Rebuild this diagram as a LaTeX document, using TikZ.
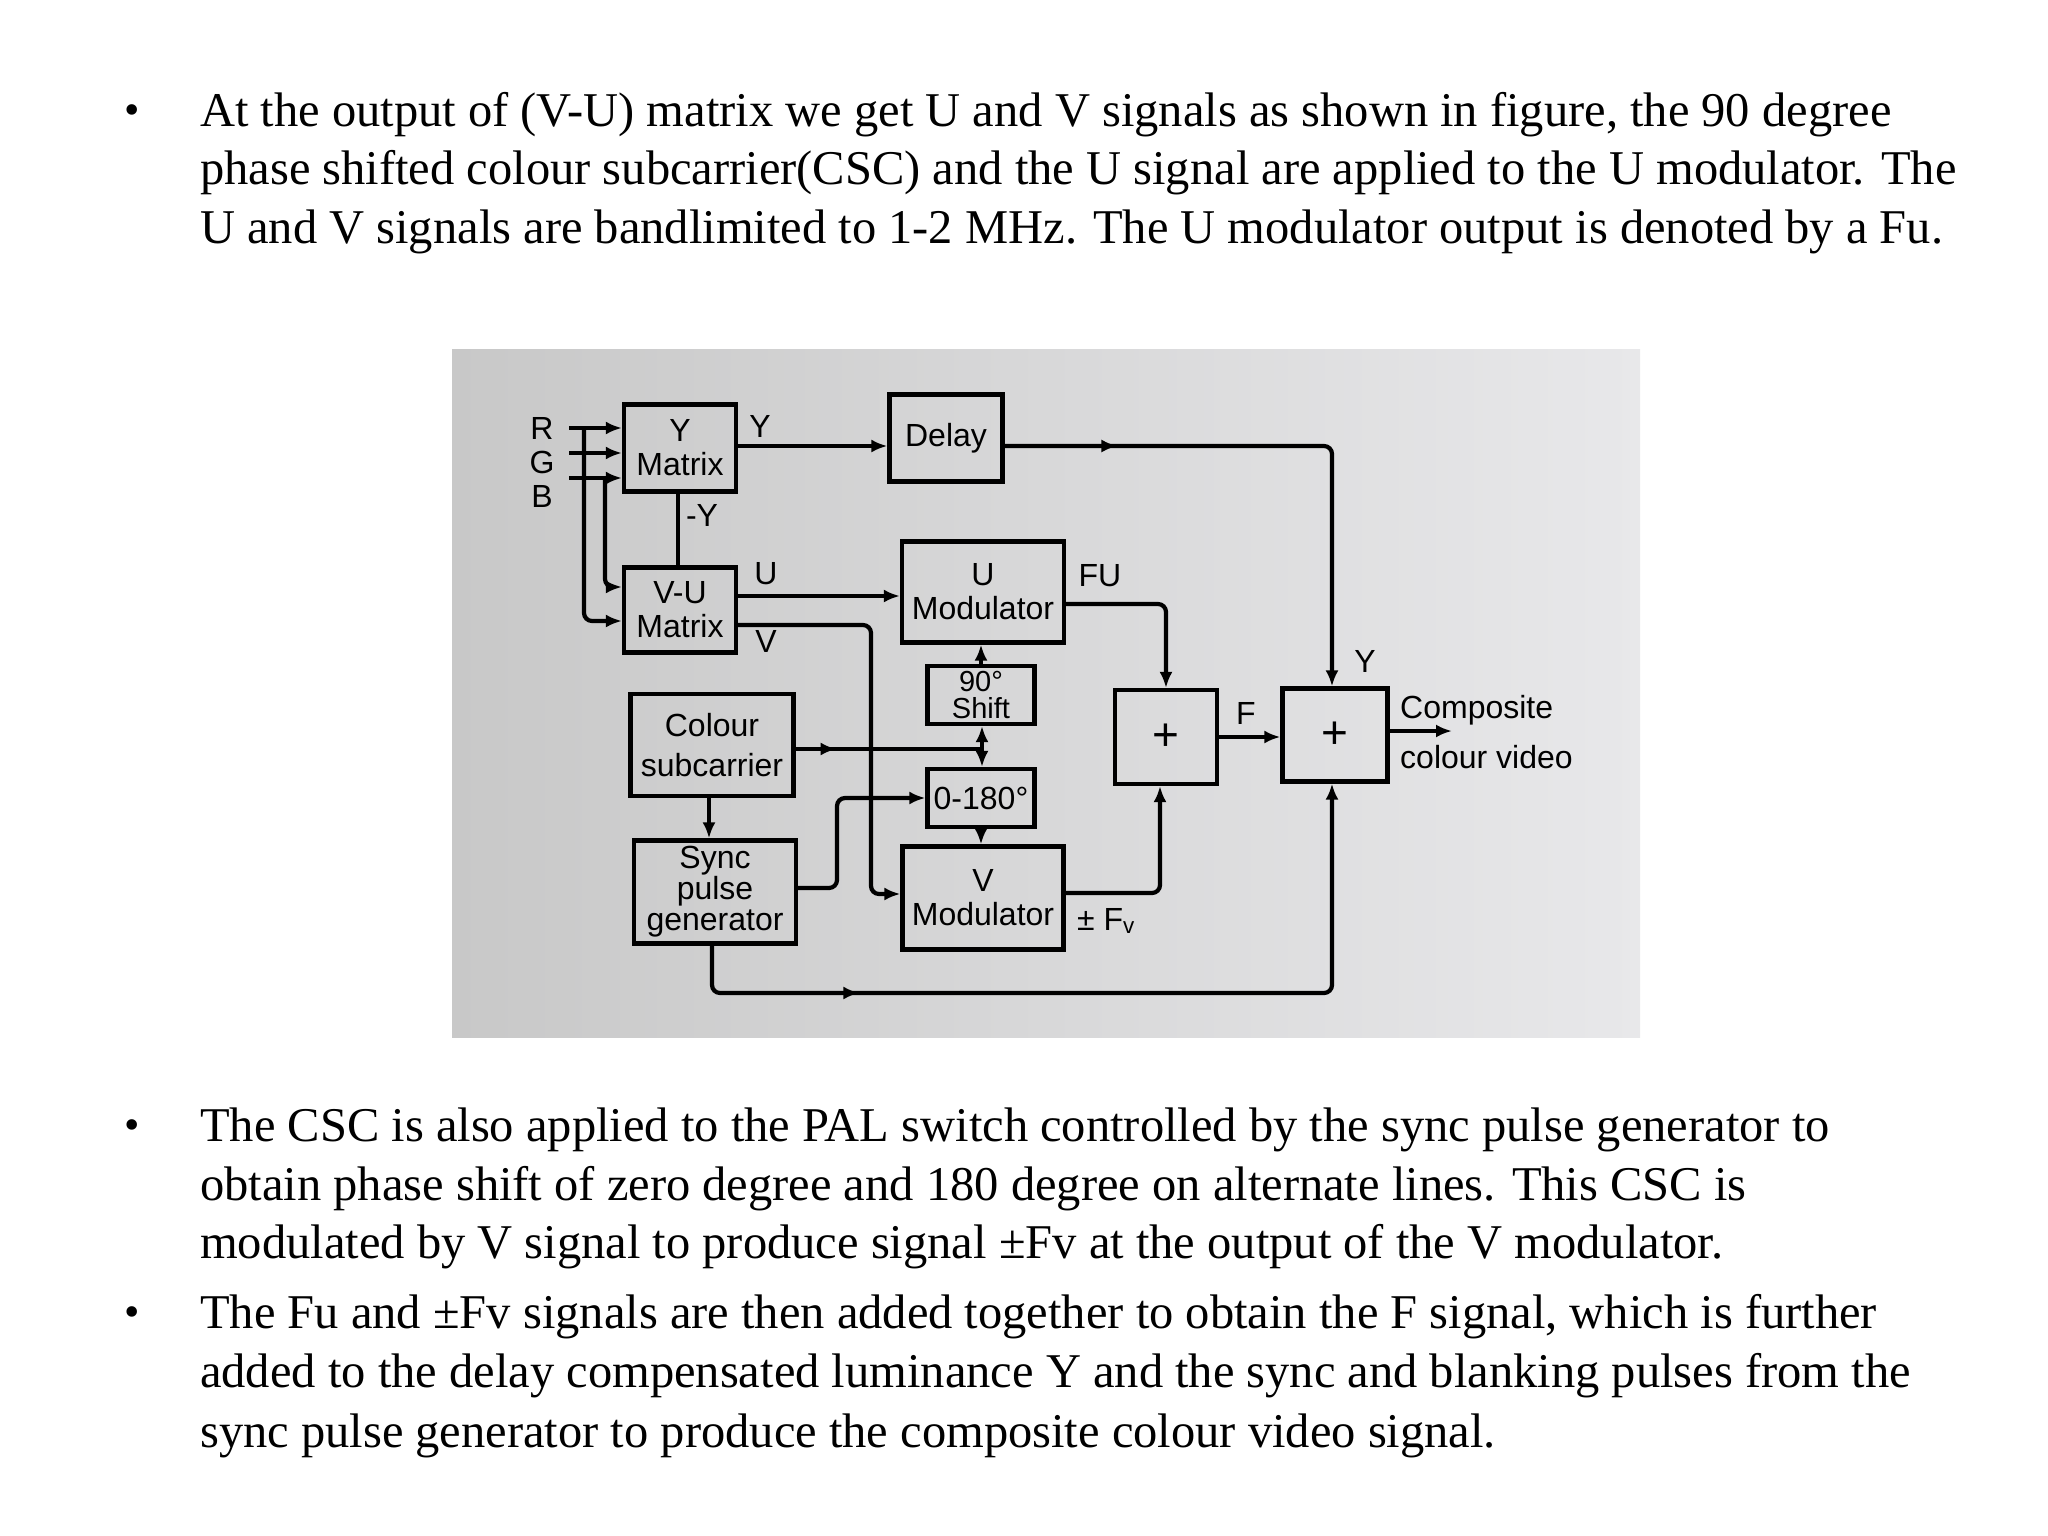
\documentclass[tikz,border=0pt]{standalone}
\usepackage{fontspec}
\setmainfont{Liberation Serif}
\newfontfamily\diagfont{Liberation Sans}
\usetikzlibrary{arrows.meta,decorations.markings}
\begin{document}
\begin{tikzpicture}[x=1pt,y=-1pt,
  txt/.style={anchor=west,inner sep=0pt,font=\fontsize{48.5}{54}\selectfont},
  bul/.style={inner sep=0pt,font=\fontsize{44}{50}\selectfont},
  blk/.style={draw,line width=4.2pt,align=center,inner sep=2pt,font=\diagfont\fontsize{32}{34}\selectfont},
  lbl/.style={inner sep=0pt,font=\diagfont\fontsize{32}{34}\selectfont},
  wire/.style={line width=4.2pt,rounded corners=8pt},
  arr/.style={wire,-{Latex[length=16pt,width=13pt]}},
  midarrow/.style={postaction={decorate},decoration={markings,mark=at position #1 with {\arrow{Latex[length=16pt,width=13pt]}}}}]
\useasboundingbox (0,0) rectangle (2048,1536);
\fill[white] (0,0) rectangle (2048,1536);
% photo background
\shade[left color={rgb,255:red,200;green,200;blue,200},right color={rgb,255:red,232;green,232;blue,234}] (452,349) rectangle (1640,1037);
% bullet text
\foreach \y in {115,1130,1317} \node[bul] at (132,\y) {•};
\node[txt] (t1) at (200,115) {At the output of (V-U) matrix we get U and V signals as shown in figure, the 90 degree};
\node[txt] (t2) at (200,173) {phase shifted colour subcarrier(CSC) and the U signal are applied to the U modulator. The};
\node[txt] (t3) at (200,232) {U and V signals are bandlimited to 1-2 MHz. The U modulator output is denoted by a Fu.};
\node[txt] (t4) at (200,1130) {The CSC is also applied to the PAL switch controlled by the sync pulse generator to};
\node[txt] (t5) at (200,1189) {obtain phase shift of zero degree and 180 degree on alternate lines. This CSC is};
\node[txt] (t6) at (200,1247) {modulated by V signal to produce signal ±Fv at the output of the V modulator.};
\node[txt] (t7) at (200,1317) {The Fu and ±Fv signals are then added together to obtain the F signal, which is further};
\node[txt] (t8) at (200,1376) {added to the delay compensated luminance Y and the sync and blanking pulses from the};
\node[txt] (t9) at (200,1436) {sync pulse generator to produce the composite colour video signal.};
% blocks
\node[blk,minimum width=112pt,minimum height=87pt] (ym) at (680,448) {Y\\Matrix};
\node[blk,minimum width=113pt,minimum height=87pt] (delay) at (946,438) {Delay};
\node[blk,minimum width=112pt,minimum height=85pt] (vu) at (680,610) {V-U\\Matrix};
\node[blk,minimum width=162pt,minimum height=101pt] (umod) at (983,592) {U\\Modulator};
\node[blk,minimum width=107pt,minimum height=58pt,inner sep=0pt,font=\diagfont\fontsize{29}{27}\selectfont] (shift) at (981,695) {90°\\Shift};
\node[blk,minimum width=107pt,minimum height=58pt] (pal) at (981,798) {0-180°};
\node[blk,minimum width=161pt,minimum height=103pt] (vmod) at (983,898) {V\\Modulator};
\node[blk,minimum width=163pt,minimum height=102pt] (csc) at (712,745) {Colour\\[6pt]subcarrier};
\node[blk,minimum width=162pt,minimum height=103pt,inner sep=0pt] (spg) at (715,892) {Sync\\[-3pt]pulse\\[-3pt]generator};
\node[blk,minimum width=102pt,minimum height=94pt,font=\diagfont\fontsize{46}{46}\selectfont] (add1) at (1166,737) {+};
\node[blk,minimum width=105pt,minimum height=93pt,font=\diagfont\fontsize{46}{46}\selectfont] (add2) at (1335,735) {+};
% labels
\node[lbl] (lR) at (542,428) {R};
\node[lbl] (lG) at (542,462) {G};
\node[lbl] (lB) at (542,496) {B};
\node[lbl] (lnY) at (702,515) {-Y};
\node[lbl] (lY) at (760,426) {Y};
\node[lbl] (lU) at (766,574) {U};
\node[lbl] (lV) at (766,641) {V};
\node[lbl] (lFU) at (1100,576) {FU};
\node[lbl] (lFv) at (1106,921) {± F\textsubscript{v}};
\node[lbl] (lF) at (1246,713) {F};
\node[lbl] (lY2) at (1365,661) {Y};
\node[lbl,anchor=west] (comp) at (1400,710) {Composite};
\node[lbl,anchor=west] (cv) at (1400,757) {colour video};
% inputs
\coordinate (rin) at (569,428); \coordinate (gin) at (569,453); \coordinate (bin) at (569,478);
\draw[arr] (rin) -- (rin -| ym.west);
\draw[arr] (gin) -- (gin -| ym.west);
\draw[arr] (bin) -- (bin -| ym.west);
\draw[arr] (584,428) -- (584,621) -- (vu.west |- 0,621);
\draw[arr] (605,478) -- (605,587) -- (vu.west |- 0,587);
\draw[wire] (678,492) -- (678,567);
% Y path
\draw[arr] (ym.east |- 0,446) -- (delay.west |- 0,446);
\draw[arr,midarrow=0.2] (delay.east |- 0,446) -- (1332,446) -- (add2.north -| 1332,0);
% U, V
\draw[arr] (vu.east |- 0,596) -- (umod.west |- 0,596);
\draw[arr] (vu.east |- 0,625) -- (871,625) -- (871,894) -- (vmod.west |- 0,894);
% subcarrier
\coordinate (cj) at (982,749);
\draw[wire,midarrow=0.22] (csc.east |- cj) -- (cj);
\draw[arr] (cj) -- (shift.south -| cj);
\draw[arr] (cj) -- (pal.north -| cj);
\draw[arr] (shift.north) -- (umod.south -| shift.north);
\draw[arr] (pal.south) -- (pal.south |- vmod.north);
\draw[arr] (csc.south -| 709,0) -- (spg.north -| 709,0);
\draw[arr] (spg.east |- 0,888) -- (837,888) -- (837,798) -- (pal.west);
% modulator outputs
\draw[arr] (umod.east |- 0,604) -- (1166,604) -- (add1.north);
\draw[arr] (vmod.east |- 0,893) -- (1160,893) -- (add1.south -| 1160,0);
\draw[arr] (add1.east |- 0,737) -- (add2.west |- 0,737);
\draw[arr,midarrow=0.22] (spg.south -| 712,0) -- (712,993) -- (1332,993) -- (add2.south -| 1332,0);
\draw[arr] (add2.east |- 0,731) -- (1452,731);
\end{tikzpicture}
\end{document}
